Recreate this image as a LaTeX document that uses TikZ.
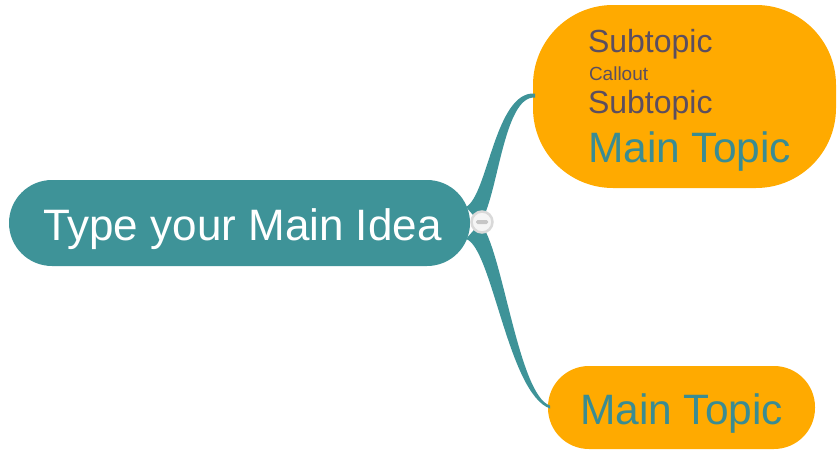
\documentclass[tikz,border=0pt]{standalone}
\usepackage{fontspec}
\setmainfont{Liberation Sans}
\usetikzlibrary{calc}
\definecolor{teal1}{HTML}{3E9398}
\definecolor{orange1}{HTML}{FFAA00}
\definecolor{subtxt}{HTML}{5C4E5F}
\definecolor{maintxt}{HTML}{3A8C92}
\tikzset{
  box/.style={inner sep=0pt, outer sep=0pt},
  lbl/.style={inner sep=0pt, outer sep=0pt, anchor=base west},
  branch/.style={fill=teal1, draw=none},
}
\begin{document}
\begin{tikzpicture}[x=1pt,y=-1pt]
\useasboundingbox (0,0) rectangle (838,450);
% nodes
\node[box, fill=teal1, rounded corners=43pt, minimum width=461pt, minimum height=86pt] (main) at (239.5,223) {};
\node[lbl, text=white, font=\fontsize{44}{48}\selectfont] (maintext) at (43,240) {Type your Main Idea};
\node[box, fill=orange1, rounded corners=80pt, minimum width=303pt, minimum height=183pt] (top) at (684.5,96.5) {};
\node[box, fill=orange1, rounded corners=41pt, minimum width=267pt, minimum height=83pt] (bot) at (681.5,407.5) {};
\node[lbl, text=subtxt, font=\fontsize{32}{36}\selectfont] (s1) at (588,52.5) {Subtopic};
\node[lbl, text=subtxt, font=\fontsize{19}{21}\selectfont] (c1) at (589,80) {Callout};
\node[lbl, text=subtxt, font=\fontsize{32}{36}\selectfont] (s2) at (588,113) {Subtopic};
\node[lbl, text=maintxt, font=\fontsize{42.5}{46}\selectfont] (m1) at (588,162.3) {Main Topic};
\node[lbl, text=maintxt, font=\fontsize{42.5}{46}\selectfont] (m2) at (580,424.3) {Main Topic};
% branches (tapered)
\fill[branch] ($(main.east)+(-4,-16)$) .. controls ($(main.east)+(18,-28)$) and ($(top.west)+(-38,-6)$) .. ($(top.west)+(2,-3)$)
  -- ($(top.west)+(2,1)$) .. controls ($(top.west)+(-30,-1)$) and ($(main.east)+(28,-24)$) .. ($(main.east)+(10,0)$) -- cycle;
\fill[branch] ($(main.east)+(-4,16)$) .. controls ($(main.east)+(22,24)$) and ($(bot.west)+(-40,-14)$) .. ($(bot.west)+(2,1)$)
  -- ($(bot.west)+(2,-2)$) .. controls ($(bot.west)+(-30,-12)$) and ($(main.east)+(32,22)$) .. ($(main.east)+(10,0)$) -- cycle;
% collapse button
\node[circle, fill=gray!8, draw=gray!30, line width=2.5pt, minimum size=21pt, inner sep=0pt] (btn) at (482,222) {};
\fill[gray!45, rounded corners=1.5pt] ($(btn.center)+(-6,-2)$) rectangle ($(btn.center)+(6,2)$);
\end{tikzpicture}
\end{document}
